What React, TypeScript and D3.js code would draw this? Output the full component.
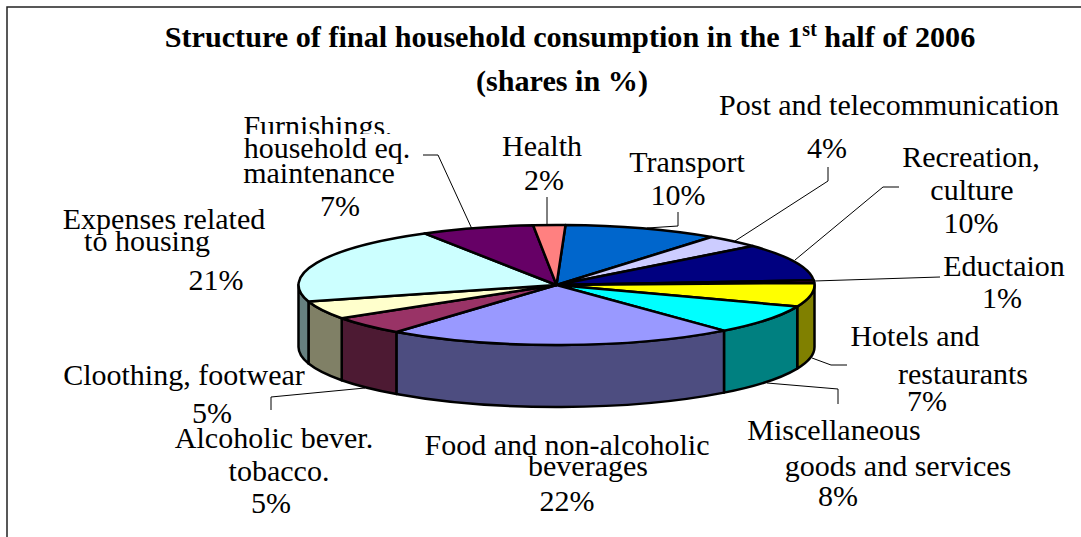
import React from 'react';
import * as d3 from 'd3';

const categories = ['Transport', 'Post and telecommunication', 'Recreation, culture', 'Eductaion', 'Hotels and restaurants', 'Miscellaneous goods and services', 'Food and non-alcoholic beverages', 'Alcoholic bever. tobacco.', 'Cloothing, footwear', 'Expenses related to housing', 'Furnishings, household eq. maintenance', 'Health'];
// shares, the printed labels are rounded
const shares = [9.7, 3.5, 10, 0.7, 6.4, 7.9, 21.9, 5, 4.9, 20.9, 7.1, 2];
const topColors = ['#0066CC', '#CCCCFF', '#000080', '#800080', '#FFFF00', '#00FFFF', '#9999FF', '#993366', '#FFFFCC', '#CCFFFF', '#660066', '#FF8080'];
const sideColors = ['#003366', '#666680', '#000040', '#400040', '#808000', '#008080', '#4D4D80', '#4D1A33', '#808066', '#668080', '#330033', '#804040'];

const labelLines: [string, number, number][] = [
  ['Post and telecommunication', 889, 115],
  ['4%', 827, 158],
  ['Recreation,', 971, 167],
  ['culture', 972, 200],
  ['10%', 971, 233],
  ['Transport', 687, 172],
  ['10%', 678, 205],
  ['Health', 542, 156],
  ['2%', 544, 190],
  ['household eq.', 327, 158],
  ['maintenance', 319, 183],
  ['7%', 340, 216],
  ['Expenses related', 164, 229],
  ['to housing', 147, 251],
  ['21%', 216, 290],
  ['Eductaion', 1004, 276],
  ['1%', 1002, 308],
  ['Hotels and', 915, 346],
  ['restaurants', 963, 384],
  ['7%', 927, 411],
  ['Miscellaneous', 834, 440],
  ['goods and services', 898, 476],
  ['8%', 838, 506],
  ['Food and non-alcoholic', 567, 455],
  ['beverages', 588, 476],
  ['22%', 567, 511],
  ['Alcoholic bever.', 274, 448],
  ['tobacco.', 279, 481],
  ['5%', 271, 513],
  ['Cloothing, footwear', 184, 385],
  ['5%', 212, 423],
];
const leaderLines: [number, number][][] = [
  [[828, 167], [828, 181], [735, 241]],
  [[899, 187], [883, 187], [795, 260]],
  [[940, 277], [814, 281]],
  [[847, 365], [831, 365], [812, 358]],
  [[838, 404], [838, 389], [767, 383]],
  [[271, 410], [271, 397], [365, 388]],
  [[423, 155], [438, 155], [472, 229]],
  [[547, 197], [547, 226]],
  [[678, 212], [678, 226], [647, 228]],
];

const cx = 556.5;
const cy = 285;
const rx = 258;
const ry = 60;
const depth = 62;
const toRad = Math.PI / 180;

const pieLayout = d3.pie<number>().sort(null).startAngle(2 * toRad).endAngle(362 * toRad);
const arcGen = d3.arc<d3.PieArcDatum<number>>().innerRadius(0).outerRadius(rx);
const slices = pieLayout(shares);

const px = (a: number) => cx + rx * Math.sin(a);
const py = (a: number) => cy - ry * Math.cos(a);

// outer wall of a slice, only the part facing the viewer
const wallPath = (a0: number, a1: number) => {
  const s = Math.max(a0, Math.PI / 2);
  const e = Math.min(a1, (3 * Math.PI) / 2);
  if (e <= s) return null;
  return `M${px(s)},${py(s)}A${rx},${ry} 0 0 1 ${px(e)},${py(e)}L${px(e)},${py(e) + depth}A${rx},${ry} 0 0 0 ${px(s)},${py(s) + depth}Z`;
};

const line = d3.line();
const serif = '"Liberation Serif", "Times New Roman", serif';

const App = () => (
  <svg width={1081} height={537} style={{ position: 'absolute', left: 0, top: 0, background: '#fff' }} fontFamily={serif}>
    <defs>
      {/* the next line's box hides the bottom of this one in the original */}
      <clipPath id="furnishings-clip">
        <rect x={230} y={100} width={200} height={34} />
      </clipPath>
    </defs>
    <path d="M7,537V7H1081" fill="none" stroke="#222" strokeWidth={1.5} />
    <text x={570} y={47} textAnchor="middle" fontSize={30.2} fontWeight="bold">
      Structure of final household consumption in the 1<tspan dy={-11} fontSize={20}>st</tspan><tspan dy={11}> half of 2006</tspan>
    </text>
    <text x={562} y={91} textAnchor="middle" fontSize={30.2} fontWeight="bold">(shares in %)</text>
    {slices.map((d, i) => {
      const wall = wallPath(d.startAngle, d.endAngle);
      return wall ? <path key={i} d={wall} fill={sideColors[i]} stroke="#000" strokeWidth={2.5} strokeLinejoin="round" /> : null;
    })}
    <g transform={`translate(${cx},${cy}) scale(1,${ry / rx})`}>
      {slices.map((d, i) => (
        <path key={i} d={arcGen(d) ?? ''} fill={topColors[i]} stroke="#000" strokeWidth={2.5} strokeLinejoin="round" vectorEffect="non-scaling-stroke">
          <title>{categories[i]}</title>
        </path>
      ))}
    </g>
    {leaderLines.map((pts, i) => (
      <path key={i} d={line(pts) ?? ''} fill="none" stroke="#000" strokeWidth={1} />
    ))}
    <g fontSize={30} textAnchor="middle" fill="#000">
      <text x={318} y={136} clipPath="url(#furnishings-clip)">Furnishings,</text>
      {labelLines.map(([t, x, y], i) => (
        <text key={i} x={x} y={y}>{t}</text>
      ))}
    </g>
  </svg>
);

export default App;
